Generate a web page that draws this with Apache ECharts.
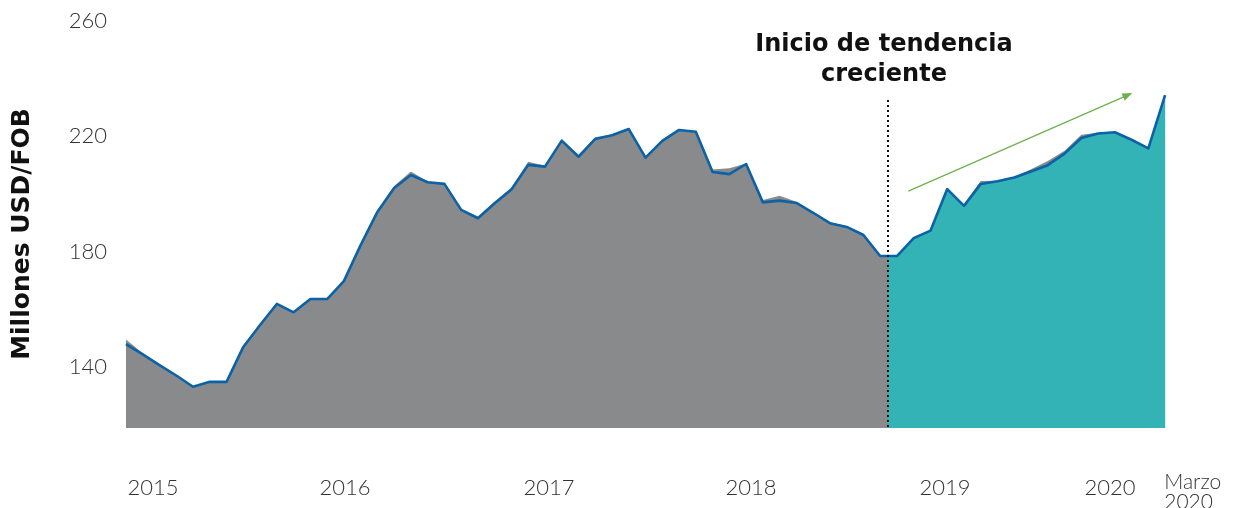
<!DOCTYPE html>
<html>
<head>
<meta charset="utf-8">
<script src="https://cdn.jsdelivr.net/npm/echarts@6/dist/echarts.min.js"></script>
<style>html,body{margin:0;padding:0;background:#fff;}#c{width:1233px;height:508px;}</style>
</head>
<body>
<div id="c"></div>
<script>
// Monthly values, Jan 2015 .. Mar 2020 (index = month number)
const exportsLine = [148.0,144.4,140.7,137.1,133.2,134.9,134.9,147.0,154.6,161.9,
  159.0,163.6,163.6,169.8,182.3,193.8,202.1,206.6,204.1,203.5,
  194.5,191.6,196.8,201.6,210.1,209.5,218.5,212.9,219.1,220.4,
  222.5,212.6,218.4,222.2,221.6,207.6,206.9,210.4,197.1,197.7,
  196.9,193.5,189.9,188.6,185.8,178.5,178.5,184.7,187.3,201.7,
  195.9,203.5,204.4,205.7,207.8,210.0,214.0,219.4,221.0,221.4,
  218.8,215.8,234.3];
const exportsShade = [149.6,144.8,140.9,137.2,133.3,135.0,135.2,147.6,155.0,162.2,
  159.3,163.8,163.8,170.2,182.8,194.4,202.8,207.8,204.3,203.7,
  194.8,192.2,197.4,202.3,211.2,209.8,218.7,213.6,219.7,220.6,
  222.6,212.9,218.8,222.3,221.7,208.5,208.9,210.6,197.9,199.4,
  197.3,193.8,190.2,188.9,186.2,178.7,178.6,184.9,187.4,201.8,
  196.4,204.5,204.6,206.0,208.6,211.4,215.0,220.5,221.2,221.5,
  218.9,216.0,234.4];
const yTicks = [140, 180, 220, 260];
const xTickLabels = ['2015','2016','2017','2018','2019','2020','Marzo 2020'];
const xTickPos = [1.61, 13.07, 25.24, 37.29, 48.87, 58.71, 63.65];
const trendStart = 45.47;          // month index where the growth trend begins
const trendArrow = [[46.68, 201.0], [59.77, 234.3]];

const lineData = exportsLine.map((v, i) => [i, v]);
const shadeData = exportsShade.map((v, i) => [i, v]);

const chart = echarts.init(document.getElementById('c'), null, {renderer: 'canvas'});
const FONT = 'Lato';
chart.setOption({
  animation: false,
  grid: {left: 126, right: 26, top: 20.9, bottom: 80, containLabel: false, outerBoundsMode: 'none'},
  xAxis: {
    type: 'value', min: 0, max: 64.5,
    axisLine: {show: false}, axisTick: {show: false}, splitLine: {show: false},
    axisLabel: {
      customValues: xTickPos,
      margin: 60,
      verticalAlign: 'middle',
      hideOverlap: false,
      fontFamily: FONT, fontWeight: 300, fontSize: 22, color: '#333',
      formatter: function (v) {
        let idx = 0, best = 1e9;
        xTickPos.forEach((p, i) => { const d = Math.abs(p - v); if (d < best) { best = d; idx = i; } });
        const t = xTickLabels[idx];
        if (t.indexOf(' ') > 0) {
          const parts = t.split(' ');
          return '{e| }\n{m|' + parts[0] + '}\n{m|' + parts[1] + '}';
        }
        return t;
      },
      rich: {
        e: {fontSize: 4, lineHeight: 9},
        m: {align: 'left', fontFamily: FONT, fontWeight: 300, fontSize: 21, lineHeight: 20, color: '#333'}
      }
    }
  },
  yAxis: {
    type: 'value', min: 118.9, max: 260,
    axisLine: {show: false}, axisTick: {show: false}, splitLine: {show: false},
    axisLabel: {customValues: yTicks, margin: 19, fontFamily: FONT, fontWeight: 300, fontSize: 22, color: '#333'}
  },
  visualMap: {
    type: 'piecewise', show: false, seriesIndex: 1, dimension: 0,
    pieces: [{gte: -10, lt: trendStart, color: 'rgba(51,179,181,0)'},
             {gte: trendStart, lte: 100, color: '#33b3b5'}]
  },
  series: [
    {
      type: 'line', data: shadeData, symbol: 'none', silent: true, z: 1,
      lineStyle: {width: 0}, areaStyle: {color: '#898a8c', opacity: 1}
    },
    {
      type: 'line', data: lineData, symbol: 'none', silent: true, z: 2,
      lineStyle: {width: 0, opacity: 0}, areaStyle: {opacity: 1}
    },
    {
      type: 'line', data: lineData, symbol: 'none', silent: true, z: 3,
      lineStyle: {color: '#0b62a6', width: 2.6, join: 'round'},
      markLine: {
        silent: true, animation: false, symbol: 'none', label: {show: false},
        data: [
          [{coord: [trendStart, 232.6], lineStyle: {color: '#111', width: 2, type: [2, 3]}},
           {coord: [trendStart, 118.9]}],
          [{coord: trendArrow[0], symbol: 'none', lineStyle: {color: '#6fb14e', width: 1.3, type: 'solid'}},
           {coord: trendArrow[1], symbol: 'triangle', symbolSize: [8, 10]}]
        ]
      }
    }
  ],
  graphic: [
    {type: 'text', x: 884, y: 30, z: 10,
     style: {text: 'Inicio de tendencia\ncreciente', textAlign: 'center', textVerticalAlign: 'top',
       fontFamily: 'DejaVu Sans', fontWeight: 'bold', fontSize: 24, lineHeight: 30, fill: '#111'}},
    {type: 'text', x: 22, y: 234, rotation: Math.PI / 2, z: 10,
     style: {text: 'Millones USD/FOB', textAlign: 'center', textVerticalAlign: 'middle',
       fontFamily: 'DejaVu Sans', fontWeight: 'bold', fontSize: 25, fill: '#111'}}
  ]
});
</script>
</body>
</html>
